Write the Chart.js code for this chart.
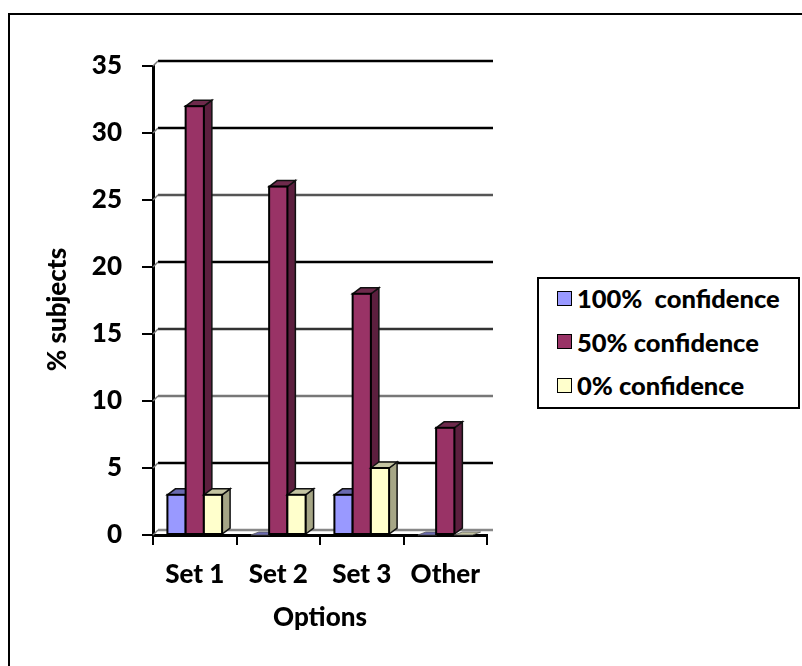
<!DOCTYPE html>
<html>
<head>
<meta charset="utf-8">
<script src="https://cdn.jsdelivr.net/npm/chart.js@4/dist/chart.umd.min.js"></script>
<style>
  html, body { margin: 0; padding: 0; background: #fff; }
  #wrap { position: relative; width: 802px; height: 666px; overflow: hidden; }
  #frame { position: absolute; left: 8px; top: 13px; width: 900px; height: 900px;
           border-left: 2px solid #000; border-top: 2px solid #000; }
  #chart { position: absolute; left: 0; top: 0; }
  #legend { position: absolute; left: 537px; top: 277px; width: 259px; height: 128px;
            border: 2px solid #000; background: #fff; }
  #legend .row { position: absolute; left: 18px; height: 30px; display: flex; align-items: center;
                 font: 900 25.5px Lato, sans-serif; color: #000; white-space: pre; }
  #legend .sw { width: 13px; height: 13px; border: 1.5px solid #000; margin-right: 5px; }
</style>
</head>
<body>
<div id="wrap">
  <div id="frame"></div>
  <canvas id="chart" width="802" height="666"></canvas>
  <div id="legend"></div>
</div>
<script>
// Share of subjects choosing each option, by confidence level
const categories = ['Set 1', 'Set 2', 'Set 3', 'Other'];
const seriesNames = ['100%  confidence', '50% confidence', '0% confidence'];
const fullConfidence = [3, 0, 3, 0];
const halfConfidence = [32, 26, 18, 8];
const noConfidence = [3, 3, 5, 0];
const yTicks = [0, 5, 10, 15, 20, 25, 30, 35];
const yTitle = '% subjects';

// face colours per series: front, top, side
const faces = [
  { front: '#9999FF', top: '#6a6ab0', side: '#5a5a98' },
  { front: '#993366', top: '#6e2a4c', side: '#5c1f3e' },
  { front: '#FFFFCC', top: '#c4c4a2', side: '#a6a686' }
];
const gridColors = ['#888', '#000', '#777', '#333', '#000', '#555', '#000', '#000'];
const BAR_DX = 8, BAR_DY = 6, WALL_DX = 5, WALL_DY = 5;
const FONT = 'Lato, sans-serif';
const WEIGHT = 900;

// back wall grid lines, drawn behind the bars
const wallPlugin = {
  id: 'wall',
  beforeDatasetsDraw(chart) {
    const { ctx, chartArea, scales: { y } } = chart;
    ctx.save();
    y.ticks.forEach((t, i) => {
      const py = y.getPixelForValue(t.value);
      ctx.strokeStyle = gridColors[i % gridColors.length];
      ctx.lineWidth = 2.5;
      ctx.beginPath();
      ctx.moveTo(chartArea.left + WALL_DX, py - WALL_DY);
      ctx.lineTo(chartArea.right + WALL_DX + 1, py - WALL_DY);
      ctx.stroke();
      ctx.strokeStyle = '#777';
      ctx.lineWidth = 1.5;
      ctx.beginPath();
      ctx.moveTo(chartArea.left, py);
      ctx.lineTo(chartArea.left + WALL_DX, py - WALL_DY);
      ctx.stroke();
    });
    ctx.restore();
  }
};

// extruded bars: side and top faces, then the front, in left-to-right order
const depthPlugin = {
  id: 'depth',
  afterDatasetsDraw(chart) {
    const { ctx } = chart;
    const items = [];
    chart.data.datasets.forEach((ds, d) => {
      chart.getDatasetMeta(d).data.forEach((el, i) => {
        const p = el.getProps(['x', 'y', 'base', 'width'], true);
        items.push({ x1: p.x - p.width / 2, x2: p.x + p.width / 2, top: p.y, base: p.base, d, v: ds.data[i] });
      });
    });
    items.sort((a, b) => a.x1 - b.x1);
    ctx.save();
    ctx.lineJoin = 'miter';
    items.forEach(b => {
      const f = faces[b.d];
      const flat = b.v === 0;
      const dy = flat ? 3 : BAR_DY;
      ctx.strokeStyle = flat ? '#555' : '#111';
      ctx.lineWidth = flat ? 0.8 : 1.5;
      // side
      if (!flat) {
        ctx.beginPath();
        ctx.moveTo(b.x2, b.top);
        ctx.lineTo(b.x2 + BAR_DX, b.top - dy);
        ctx.lineTo(b.x2 + BAR_DX, b.base - dy);
        ctx.lineTo(b.x2, b.base);
        ctx.closePath();
        ctx.fillStyle = f.side;
        ctx.fill();
        ctx.stroke();
      }
      // top
      ctx.beginPath();
      ctx.moveTo(b.x1, b.top);
      ctx.lineTo(b.x1 + BAR_DX, b.top - dy);
      ctx.lineTo(b.x2 + BAR_DX, b.top - dy);
      ctx.lineTo(b.x2, b.top);
      ctx.closePath();
      ctx.fillStyle = f.top;
      ctx.fill();
      ctx.stroke();
      // front
      if (!flat) {
        ctx.fillStyle = f.front;
        ctx.fillRect(b.x1, b.top, b.x2 - b.x1, b.base - b.top);
        ctx.lineWidth = 2;
        ctx.strokeStyle = '#000';
        ctx.strokeRect(b.x1, b.top, b.x2 - b.x1, b.base - b.top);
      }
    });
    ctx.restore();
  }
};

// vertical axis caption, rotated, a little below the plot's mid-height
const yTitlePlugin = {
  id: 'yTitle',
  afterDraw(chart) {
    const { ctx, chartArea } = chart;
    ctx.save();
    ctx.translate(58, (chartArea.top + chartArea.bottom) / 2 + 9);
    ctx.rotate(-Math.PI / 2);
    ctx.font = WEIGHT + ' 26px ' + FONT;
    ctx.fillStyle = '#000';
    ctx.textAlign = 'center';
    ctx.textBaseline = 'middle';
    ctx.fillText(yTitle, 0, 0);
    ctx.restore();
  }
};

// legend built from the chart's datasets
const htmlLegend = {
  id: 'htmlLegend',
  afterUpdate(chart) {
    const box = document.getElementById('legend');
    box.innerHTML = '';
    chart.data.datasets.forEach((ds, i) => {
      const row = document.createElement('div');
      row.className = 'row';
      row.style.top = (4 + i * 43.5) + 'px';
      const sw = document.createElement('span');
      sw.className = 'sw';
      sw.style.background = ds.backgroundColor;
      const tx = document.createElement('span');
      tx.textContent = ds.label;
      row.appendChild(sw);
      row.appendChild(tx);
      box.appendChild(row);
    });
  }
};

const seriesValues = [fullConfidence, halfConfidence, noConfidence];

new Chart(document.getElementById('chart'), {
  type: 'bar',
  data: {
    labels: categories,
    datasets: seriesValues.map((vals, i) => ({
      label: seriesNames[i],
      data: vals,
      backgroundColor: faces[i].front,
      borderWidth: 0
    }))
  },
  options: {
    responsive: false,
    animation: false,
    layout: { padding: { left: 0, top: 66, right: 315, bottom: 0 } },
    datasets: { bar: { categoryPercentage: 0.655, barPercentage: 1 } },
    plugins: { legend: { display: false }, tooltip: { enabled: false } },
    scales: {
      x: {
        grid: { offset: true, drawOnChartArea: false, tickLength: 10, color: '#000', lineWidth: 2 },
        border: { color: '#000', width: 3 },
        ticks: { color: '#000', padding: 14, maxRotation: 0, font: { family: FONT, weight: WEIGHT, size: 26 } },
        title: { display: true, text: 'Options', color: '#000', padding: 33,
                 font: { family: FONT, weight: WEIGHT, size: 26 } },
        afterFit(s) { s.height = 131; }
      },
      y: {
        min: 0, max: 35,
        afterBuildTicks(s) { s.ticks = yTicks.map(v => ({ value: v })); },
        grid: { drawOnChartArea: false, tickLength: 11, color: '#000', lineWidth: 2 },
        border: { color: '#000', width: 3 },
        ticks: { color: '#000', padding: 20, font: { family: FONT, weight: WEIGHT, size: 26 } },
        title: { display: false },
        afterFit(s) { s.width = 153; }
      }
    }
  },
  plugins: [wallPlugin, depthPlugin, yTitlePlugin, htmlLegend]
});
</script>
</body>
</html>
